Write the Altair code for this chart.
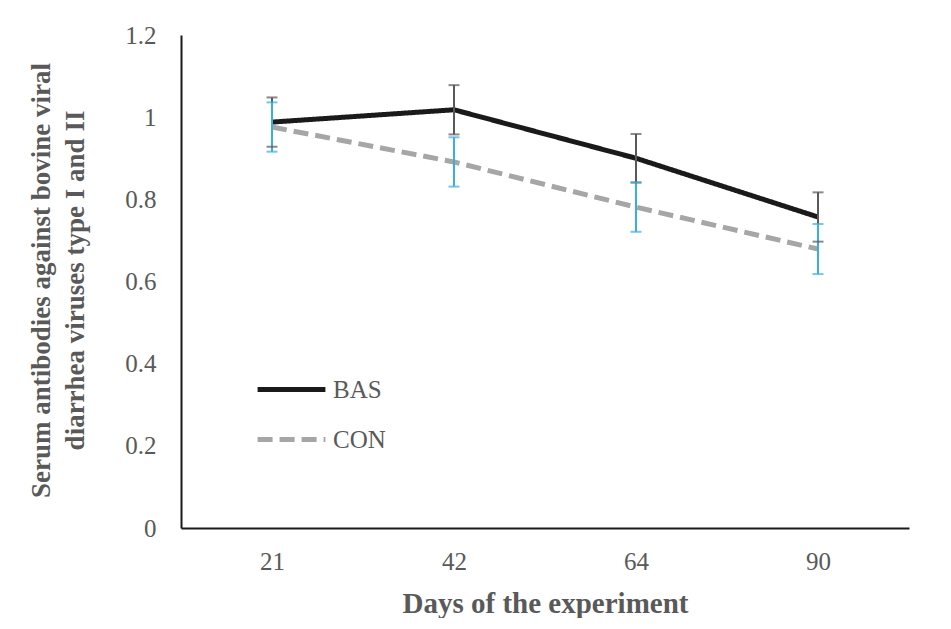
import altair as alt
import pandas as pd

days = ["21", "42", "64", "90"]
groups = ["BAS", "CON"]
bas_mean = [0.988, 1.018, 0.900, 0.757]
bas_err = [0.060, 0.060, 0.059, 0.060]
con_mean = [0.976, 0.891, 0.781, 0.679]
con_err = [0.060, 0.060, 0.060, 0.061]
line_colors = ["#1a1a1a", "#a6a6a6"]
err_colors = ["#595959", "#3aaee3"]
y_ticks = [0, 0.2, 0.4, 0.6, 0.8, 1.0, 1.2]

rows = []
for g, means, errs in [("BAS", bas_mean, bas_err), ("CON", con_mean, con_err)]:
    for d, m, e in zip(days, means, errs):
        rows.append({"day": d, "group": g, "mean": m, "lo": m - e, "hi": m + e})
df = pd.DataFrame(rows)

FONT = "Liberation Serif"
TXT = "#595959"

x = alt.X(
    "day:O",
    sort=days,
    scale=alt.Scale(type="point", padding=0.5),
    axis=alt.Axis(
        title="Days of the experiment",
        labelAngle=0,
        ticks=False,
        domainColor="#1a1a1a",
        domainWidth=2,
        labelFont=FONT,
        labelFontSize=25,
        labelColor=TXT,
        labelPadding=21,
        titleFont=FONT,
        titleFontSize=29,
        titleFontWeight="bold",
        titleColor=TXT,
        titlePadding=15,
        grid=False,
    ),
)

y_axis = alt.Axis(
    title=["Serum antibodies against bovine viral", "diarrhea viruses type I and II"],
    values=y_ticks,
    format="~g",
    ticks=False,
    grid=False,
    domainColor="#1a1a1a",
    domainWidth=2,
    labelFont=FONT,
    labelFontSize=25,
    labelColor=TXT,
    labelPadding=25,
    titleFont=FONT,
    titleFontSize=27,
    titleFontWeight="bold",
    titleColor=TXT,
    titleAngle=-90,
    titleAlign="center",
    titleBaseline="top",
    titleX=-153,
    titleY=245,
    titleLineHeight=34,
)
y_scale = alt.Scale(domain=[0, 1.2], nice=False)

base = alt.Chart(df)

lines = base.mark_line(strokeWidth=5, strokeCap="butt").encode(
    x=x,
    y=alt.Y("mean:Q", scale=y_scale, axis=y_axis),
    color=alt.Color(
        "group:N",
        scale=alt.Scale(domain=groups, range=line_colors),
        legend=alt.Legend(
            title=None,
            orient="none",
            legendX=74,
            legendY=318,
            symbolType="stroke",
            symbolSize=4600,
            symbolStrokeWidth=5,
            labelFont=FONT,
            labelFontSize=25,
            labelColor=TXT,
            labelOffset=5,
            rowPadding=-3,
        ),
    ),
    strokeDash=alt.StrokeDash(
        "group:N",
        scale=alt.Scale(domain=groups, range=[[1, 0], [15, 7]]),
        legend=alt.Legend(title=None),
    ),
)

err_stroke = alt.condition(
    alt.datum.group == "BAS", alt.value(err_colors[0]), alt.value(err_colors[1])
)

rules = base.mark_rule(strokeWidth=2).encode(
    x=x,
    y=alt.Y("lo:Q", scale=y_scale),
    y2="hi:Q",
    color=err_stroke,
)
caps_lo = base.mark_tick(size=11, thickness=2).encode(
    x=x, y=alt.Y("lo:Q", scale=y_scale), color=err_stroke
)
caps_hi = base.mark_tick(size=11, thickness=2).encode(
    x=x, y=alt.Y("hi:Q", scale=y_scale), color=err_stroke
)

chart = (
    alt.layer(lines, rules, caps_lo, caps_hi)
    .properties(
        width=728,
        height=493,
        autosize=alt.AutoSizeParams(type="none"),
        padding={"left": 173, "top": 27, "right": 20, "bottom": 90},
        background="white",
    )
    .configure_view(stroke=None)
)

chart.save("out.html", embed_options={"renderer": "svg", "actions": False})
